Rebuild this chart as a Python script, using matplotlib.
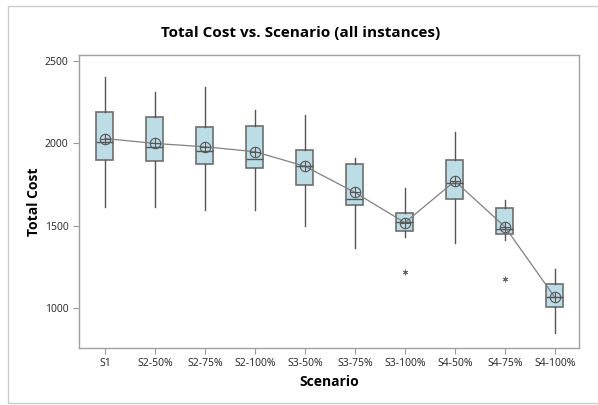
import matplotlib
matplotlib.use('Agg')
import matplotlib.pyplot as plt
from matplotlib.patches import Rectangle

plt.rcParams['font.family'] = ['Open Sans', 'DejaVu Sans']

scenarios = ['S1', 'S2-50%', 'S2-75%', 'S2-100%', 'S3-50%', 'S3-75%',
             'S3-100%', 'S4-50%', 'S4-75%', 'S4-100%']
whis_lo = [1612, 1612, 1598, 1598, 1499, 1366, 1430, 1396, 1416, 849]
q1 = [1899, 1893, 1873, 1849, 1748, 1624, 1469, 1663, 1449, 1009]
median = [2006, 1980, 1956, 1905, 1863, 1661, 1521, 1760, 1481, 1067]
q3 = [2190, 2158, 2099, 2105, 1962, 1873, 1580, 1901, 1609, 1146]
whis_hi = [2400, 2309, 2342, 2204, 2174, 1911, 1731, 2071, 1659, 1236]
means = [2030, 2000, 1980, 1950, 1862, 1703, 1520, 1772, 1495, 1067]
outliers = [[], [], [], [], [], [], [1222], [], [1176], []]

stats = []
for i in range(len(scenarios)):
    stats.append({'whislo': whis_lo[i], 'q1': q1[i], 'med': median[i],
                  'q3': q3[i], 'whishi': whis_hi[i], 'fliers': outliers[i]})

fig = plt.figure(figsize=(5.98, 4.05), dpi=100)
ax = fig.add_axes([0.132, 0.1407, 0.836, 0.723])

pos = list(range(len(scenarios)))
ax.bxp(stats, positions=pos, widths=0.34, patch_artist=True, showcaps=False,
       boxprops=dict(facecolor='#bcdce6', edgecolor='#6e6e6e', linewidth=1.2),
       medianprops=dict(color='#555555', linewidth=1),
       whiskerprops=dict(color='#555555', linewidth=1),
       flierprops=dict(marker=(6, 2, 0), markersize=4, markeredgecolor='#666666',
                       markeredgewidth=0.6))

ax.plot(pos, means, color='#808080', linewidth=0.9, zorder=3)
ax.plot(pos, means, linestyle='none', marker='o', markersize=7.5,
        markerfacecolor='none', markeredgecolor='#555555', markeredgewidth=0.8, zorder=4)
ax.plot(pos, means, linestyle='none', marker='+', markersize=7.5,
        markeredgecolor='#555555', markeredgewidth=0.8, zorder=4)

ax.set_xlim(-0.52, 9.48)
ax.set_ylim(760, 2535)
ax.set_yticks([1000, 1500, 2000, 2500])
ax.set_xticks(pos)
ax.set_xticklabels(scenarios)
ax.tick_params(labelsize=7.5, colors='#999999', labelcolor='#222222', length=4, width=0.8)

for s in ax.spines.values():
    s.set_color('#a0a0a0')
    s.set_linewidth(1)

fig.suptitle('Total Cost vs. Scenario (all instances)', fontsize=11,
             fontweight='bold', x=0.503, y=0.918, va='center')
ax.set_xlabel('Scenario', fontsize=10, fontweight='bold', labelpad=4)
ax.set_ylabel('Total Cost', fontsize=10, fontweight='bold', labelpad=3)

fig.patches.append(Rectangle((0.0134, 0.005), 1.1, 0.98, transform=fig.transFigure,
                             fill=False, edgecolor='#cccccc', linewidth=1))

fig.savefig('out.png', dpi=100)
